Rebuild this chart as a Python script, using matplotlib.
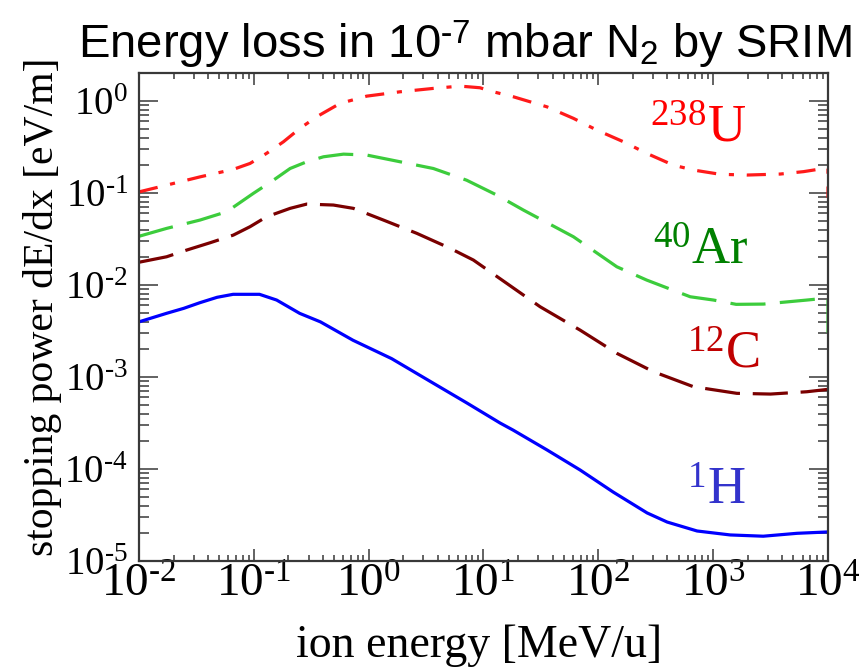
import numpy as np
import matplotlib
matplotlib.use('Agg')
import matplotlib.pyplot as plt
from matplotlib.ticker import LogLocator, NullFormatter, FuncFormatter

plt.rcParams['font.family'] = 'Liberation Serif'
plt.rcParams['mathtext.fontset'] = 'custom'
plt.rcParams['mathtext.rm'] = 'Liberation Serif'
plt.rcParams['mathtext.it'] = 'Liberation Serif:italic'
plt.rcParams['mathtext.sf'] = 'Liberation Sans'
plt.rcParams['axes.unicode_minus'] = False

# ion energy [MeV/u] and stopping power [eV/m]
h_x = [0.01, 0.0174, 0.0245, 0.0339, 0.0479, 0.066, 0.112, 0.158, 0.251,
       0.380, 0.731, 1.585, 3.63, 7.19, 13.96, 18.1, 35.8, 69.3, 134.6, 266,
       398, 724, 1406, 2729, 5370, 10000]
h_y = [3.98e-3, 4.93e-3, 5.58e-3, 6.43e-3, 7.36e-3, 7.93e-3, 7.93e-3, 6.87e-3,
       4.92e-3, 3.98e-3, 2.51e-3, 1.585e-3, 8.61e-4, 5.21e-4, 3.16e-4, 2.65e-4,
       1.61e-4, 9.77e-5, 5.62e-5, 3.33e-5, 2.65e-5, 2.12e-5, 1.92e-5, 1.86e-5,
       2.0e-5, 2.07e-5]

c_x = [0.01, 0.0174, 0.026, 0.0415, 0.0662, 0.0927, 0.129, 0.207, 0.289,
       0.493, 0.736, 1.343, 2.624, 5.117, 8.166, 15.96, 31.12, 69.3, 144.9,
       302, 673, 1607, 3162, 6546, 10000]
c_y = [1.77e-2, 2.03e-2, 2.40e-2, 2.88e-2, 3.49e-2, 4.31e-2, 5.52e-2, 6.82e-2,
       7.59e-2, 7.41e-2, 6.82e-2, 5.09e-2, 3.65e-2, 2.51e-2, 1.87e-2,
       1.042e-2, 5.81e-3, 3.24e-3, 1.81e-3, 1.143e-3, 7.85e-4, 6.65e-4,
       6.53e-4, 6.92e-4, 7.35e-4]

ar_x = [0.01, 0.0174, 0.034, 0.0581, 0.0991, 0.148, 0.207, 0.289, 0.404,
        0.604, 0.962, 1.875, 3.656, 7.13, 13.06, 22.28, 60.7, 144.9, 264, 631,
        1007, 1585, 2742, 6546, 9141, 10000, 10000]
ar_y = [3.39e-2, 4.13e-2, 5.09e-2, 6.27e-2, 9.93e-2, 0.138, 0.185, 0.219,
        0.248, 0.265, 0.259, 0.219, 0.185, 0.138, 9.51e-2, 6.53e-2, 3.35e-2,
        1.58e-2, 1.132e-2, 7.46e-3, 6.87e-3, 6.17e-3, 6.21e-3, 6.87e-3,
        7.16e-3, 7.16e-3, 3.02e-3]

u_x = [0.01, 0.0174, 0.034, 0.0662, 0.0927, 0.129, 0.181, 0.252, 0.353,
       0.564, 0.962, 1.875, 3.66, 6.25, 9.33, 11.4, 18.2, 35.6, 60.7, 97.0,
       165.6, 264, 451, 673, 1151, 1968, 3837, 6124, 9141, 10000, 10000]
u_y = [0.103, 0.122, 0.150, 0.181, 0.210, 0.270, 0.361, 0.505, 0.676, 0.944,
       1.132, 1.262, 1.374, 1.455, 1.396, 1.288, 1.114, 0.867, 0.649, 0.484,
       0.361, 0.270, 0.201, 0.178, 0.160, 0.157, 0.161, 0.171, 0.185, 0.185,
       0.089]


def pow10(v, pos):
    e = int(round(np.log10(v)))
    if e < 0:
        return r'$10^{\text{-%d}}$' % (-e)
    return r'$10^{%d}$' % e


fig = plt.figure(figsize=(8.65, 6.67), dpi=100)
ax = fig.add_axes([139 / 865, 106 / 667, 689 / 865, 488 / 667])

lw = 2.3
ax.plot(u_x, u_y, color='#ff1a1a', lw=lw, ls=(0, (6, 4, 1.6, 4)))
ax.plot(ar_x, ar_y, color='#3ccc3c', lw=lw, ls=(0, (11, 4.5)))
ax.plot(c_x, c_y, color='#7a0000', lw=lw, ls=(0, (11, 4)))
ax.plot(h_x, h_y, color='#0000ff', lw=lw)

ax.set_xscale('log')
ax.set_yscale('log')
ax.set_xlim(1e-2, 1e4)
ax.set_ylim(1e-5, 2.02)

ax.xaxis.set_major_locator(LogLocator(base=10, numticks=20))
ax.yaxis.set_major_locator(LogLocator(base=10, numticks=20))
ax.xaxis.set_minor_locator(LogLocator(base=10, subs=np.arange(2, 10), numticks=20))
ax.yaxis.set_minor_locator(LogLocator(base=10, subs=np.arange(2, 10), numticks=20))
ax.xaxis.set_major_formatter(FuncFormatter(pow10))
ax.yaxis.set_major_formatter(FuncFormatter(pow10))
ax.xaxis.set_minor_formatter(NullFormatter())
ax.yaxis.set_minor_formatter(NullFormatter())

edge = '#383838'
for s in ax.spines.values():
    s.set_color(edge)
    s.set_linewidth(1.6)
ax.tick_params(which='both', direction='in', top=True, right=True,
               color=edge, width=1.1)
ax.tick_params(axis='x', which='major', length=8.6, labelsize=34, pad=2)
ax.tick_params(axis='x', which='minor', length=4.5)
ax.tick_params(axis='y', which='major', length=13.5, labelsize=28, pad=8)
ax.tick_params(axis='y', which='minor', length=7)

ax.set_xlabel('ion energy [MeV/u]', fontsize=33)
ax.xaxis.set_label_coords(0.493, -0.131)
ax.set_ylabel('stopping power dE/dx [eV/m]', fontsize=30)
ax.yaxis.set_label_coords(-0.112, 0.52)

fig.text(465 / 865, 1 - 58 / 667,
         r'Energy loss in 10$^{\text{-}\mathsf{7}}$ mbar N$_{\mathsf{2}}$ by SRIM',
         family='Liberation Sans', fontsize=34, ha='center', va='baseline')

ax.text(0.742, 0.859, r'$^{238}$U', transform=ax.transAxes, fontsize=38,
        color='#ff0000', va='baseline')
ax.text(0.746, 0.607, r'$^{40}$Ar', transform=ax.transAxes, fontsize=38,
        color='#008000', va='baseline')
ax.text(0.795, 0.395, r'$^{12}$C', transform=ax.transAxes, fontsize=38,
        color='#c00000', va='baseline')
ax.text(0.795, 0.115, r'$^{1}$H', transform=ax.transAxes, fontsize=38,
        color='#3333cc', va='baseline')

fig.savefig('out.png', dpi=100)
